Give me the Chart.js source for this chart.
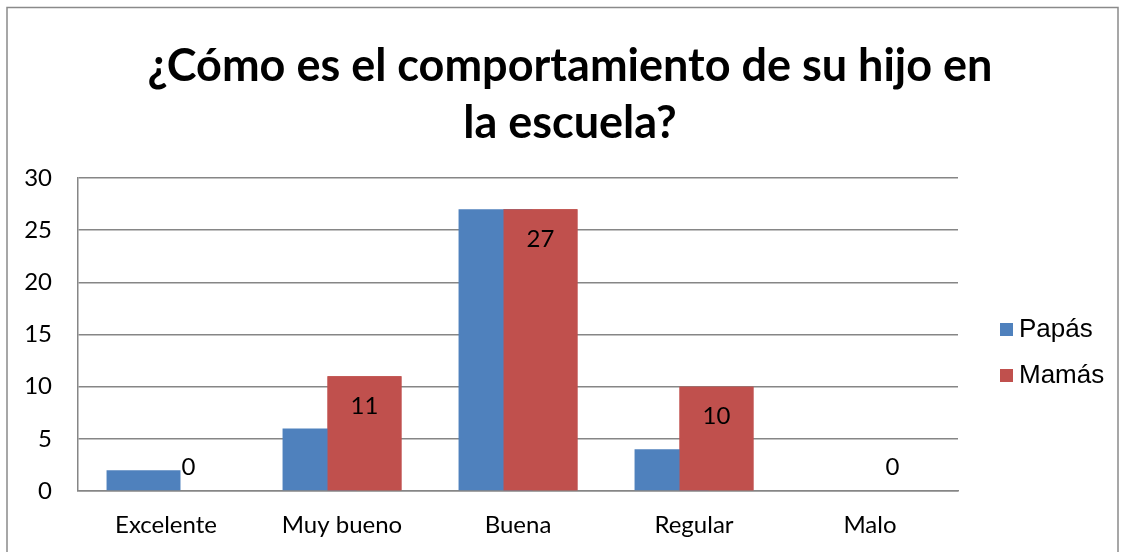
<!DOCTYPE html>
<html>
<head>
<meta charset="utf-8">
<script src="https://cdn.jsdelivr.net/npm/chart.js@4.4.0/dist/chart.umd.min.js"></script>
<style>
  html, body { margin: 0; padding: 0; background: #fff; }
  #wrap { width: 1122px; height: 552px; position: relative; }
</style>
</head>
<body>
<div id="wrap"><canvas id="chart" width="1122" height="552"></canvas></div>
<script>
// data
const categories = ['Excelente', 'Muy bueno', 'Buena', 'Regular', 'Malo'];
const papas = [2, 6, 27, 4, 0];
const mamas = [0, 11, 27, 10, 0];
const titleLines = ['¿Cómo es el comportamiento de su hijo en', 'la escuela?'];
const seriesNames = ['Papás', 'Mamás'];
const seriesColors = ['#4F81BD', '#C0504D'];

// frame, title, value labels and legend drawn on the canvas
const extras = {
    id: 'extras',
    beforeDraw(chart) {
        const ctx = chart.ctx;
        ctx.save();
        ctx.fillStyle = '#fff';
        ctx.fillRect(0, 0, chart.width, chart.height);
        ctx.strokeStyle = '#8a8a8a';
        ctx.lineWidth = 1.5;
        ctx.strokeRect(7, 7.5, 1111, 600);
        ctx.restore();
    },
    afterDatasetsDraw(chart) {
        const ctx = chart.ctx;
        const meta = chart.getDatasetMeta(1);
        // Mamás bars sit on top of Papás bars, as in the original
        meta.data.forEach(bar => bar.draw(ctx));

        ctx.save();
        // title
        ctx.fillStyle = '#000';
        ctx.font = 'bold 45px Lato';
        ctx.textAlign = 'center';
        ctx.textBaseline = 'middle';
        ctx.fillText(titleLines[0], 570, 66);
        ctx.fillText(titleLines[1], 570, 123);

        // value labels on Mamás only
        ctx.font = '24px Lato';
        meta.data.forEach((bar, i) => {
            const v = mamas[i];
            const y = v > 0 ? bar.y + 30 : bar.y - 24;
            ctx.fillText(String(v), bar.x, y);
        });

        // legend
        ctx.font = '26px "Liberation Sans"';
        ctx.textAlign = 'left';
        seriesNames.forEach((name, i) => {
            const cy = 330 + i * 46;
            ctx.fillStyle = seriesColors[i];
            ctx.fillRect(1000, cy - 7, 13, 13);
            ctx.fillStyle = '#000';
            ctx.fillText(name, 1019, cy);
        });
        ctx.restore();
    }
};

const ctx = document.getElementById('chart').getContext('2d');
new Chart(ctx, {
    type: 'bar',
    data: {
        labels: categories,
        datasets: [
            {
                label: seriesNames[0],
                data: papas,
                backgroundColor: seriesColors[0],
                categoryPercentage: 0.511,
                barPercentage: 1.644
            },
            {
                label: seriesNames[1],
                data: mamas,
                backgroundColor: seriesColors[1],
                categoryPercentage: 0.511,
                barPercentage: 1.644
            }
        ]
    },
    options: {
        responsive: false,
        animation: false,
        layout: { padding: { top: 178, right: 164, left: 0, bottom: 0 } },
        plugins: {
            legend: { display: false },
            title: { display: false },
            tooltip: { enabled: false }
        },
        scales: {
            x: {
                grid: { display: false, drawTicks: false },
                border: { display: true, color: '#868686', width: 1.5 },
                ticks: { color: '#000', font: { family: 'Lato', size: 24 }, padding: 20 },
                afterFit(scale) { scale.height = 61; }
            },
            y: {
                min: 0,
                max: 30,
                ticks: { stepSize: 5, color: '#000', font: { family: 'Lato', size: 24 }, padding: 26 },
                grid: { color: '#868686', lineWidth: 1.5, drawTicks: false },
                border: { display: true, color: '#868686', width: 1.5 },
                afterFit(scale) { scale.width = 78; }
            }
        }
    },
    plugins: [extras]
});
</script>
</body>
</html>
